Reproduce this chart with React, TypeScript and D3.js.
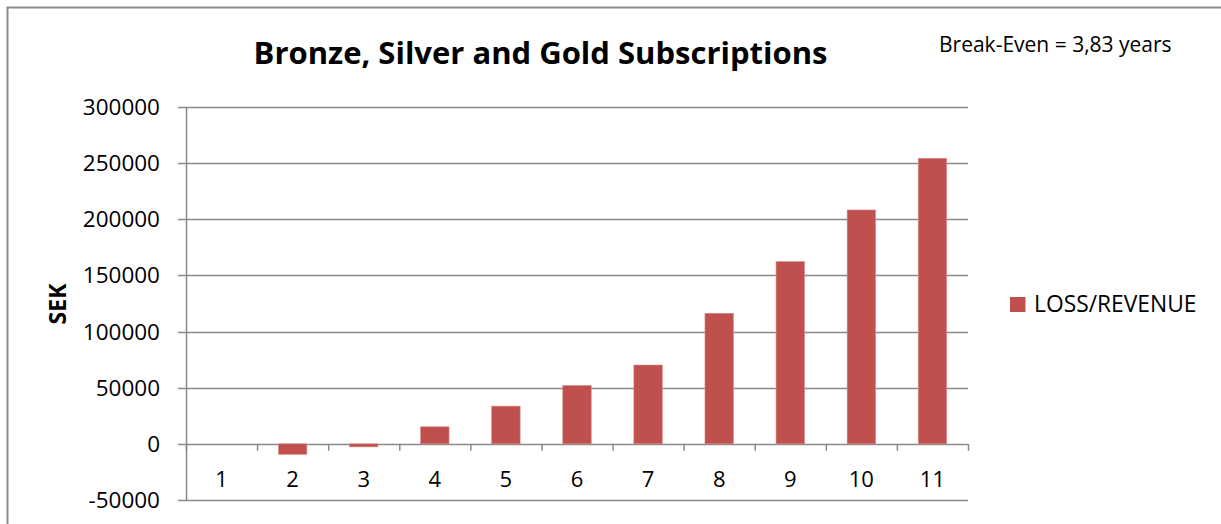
import React from "react";
import * as d3 from "d3";

const categories = ["1", "2", "3", "4", "5", "6", "7", "8", "9", "10", "11"];
const values = [0, -9300, -2700, 15200, 33600, 52000, 70200, 116300, 162300, 208300, 254300];
const yTicks = [-50000, 0, 50000, 100000, 150000, 200000, 250000, 300000];
const seriesName = "LOSS/REVENUE";
const title = "Bronze, Silver and Gold Subscriptions";
const note = "Break-Even = 3,83 years";
const yTitle = "SEK";

const W = 1221;
const H = 524;
const plot = { left: 186, right: 968, top: 107, bottom: 500 };
const barColor = "#C0504D";
const gridColor = "#8a8a8a";
const font = "'Open Sans', 'Noto Sans', sans-serif";

export default function App() {
  const x = d3.scaleBand<string>().domain(categories).range([plot.left, plot.right]).padding(0);
  const y = d3.scaleLinear().domain([-50000, 300000]).range([plot.bottom, plot.top]);
  const step = x.step();
  const bw = step * 0.4;
  const y0 = y(0);

  return (
    <svg
      width={W}
      height={H}
      style={{ position: "absolute", left: 0, top: 0, background: "#fff" }}
      fontFamily={font}
    >
      <rect x={0} y={0} width={W} height={H} fill="#fff" />
      {/* outer chart border */}
      <rect x={7.5} y={7.5} width={W + 20} height={H + 20} fill="none" stroke={gridColor} strokeWidth={2} />

      {/* gridlines */}
      {yTicks.map((t) => (
        <line
          key={"g" + t}
          x1={plot.left - 8}
          x2={plot.right}
          y1={Math.round(y(t)) + 0.5}
          y2={Math.round(y(t)) + 0.5}
          stroke={gridColor}
          strokeWidth={1.5}
        />
      ))}

      {/* y axis line */}
      <line x1={plot.left + 0.5} x2={plot.left + 0.5} y1={plot.top} y2={plot.bottom} stroke={gridColor} strokeWidth={1.5} />

      {/* y tick labels */}
      {yTicks.map((t) => (
        <text key={"yl" + t} x={160} y={y(t) + 8} textAnchor="end" fontSize={22.5} fill="#000">
          {t}
        </text>
      ))}

      {/* bars */}
      {categories.map((c, i) => {
        const v = values[i];
        const yv = y(v);
        const top = Math.min(yv, y0);
        const h = Math.abs(yv - y0);
        if (h < 0.01) return null;
        return (
          <rect
            key={"b" + c}
            x={(x(c) as number) + (step - bw) / 2}
            y={top}
            width={bw}
            height={h}
            fill={barColor}
            stroke="#d98a88"
            strokeWidth={0.6}
          />
        );
      })}

      {/* category tick marks at zero line */}
      {d3.range(categories.length + 1).map((k) => (
        <line
          key={"t" + k}
          x1={plot.left + k * step + 0.5}
          x2={plot.left + k * step + 0.5}
          y1={y0}
          y2={y0 + 7}
          stroke={gridColor}
          strokeWidth={1.5}
        />
      ))}

      {/* category labels */}
      {categories.map((c) => (
        <text key={"xl" + c} x={(x(c) as number) + step / 2} y={487} textAnchor="middle" fontSize={22} fill="#000">
          {c}
        </text>
      ))}

      {/* title */}
      <text x={540.5} y={64} textAnchor="middle" fontSize={31} fontWeight="bold" fill="#000">
        {title}
      </text>

      {/* note */}
      <text x={939} y={52} fontSize={21} fill="#000">
        {note}
      </text>

      {/* y axis title */}
      <text
        transform={`translate(66, 304) rotate(-90)`}
        textAnchor="middle"
        fontSize={23}
        fontWeight="bold"
        fill="#000"
      >
        {yTitle}
      </text>

      {/* legend */}
      <rect x={1010} y={297} width={15.5} height={15} fill={barColor} />
      <text x={1034} y={312} fontSize={22.8} fill="#000">
        {seriesName}
      </text>
    </svg>
  );
}
